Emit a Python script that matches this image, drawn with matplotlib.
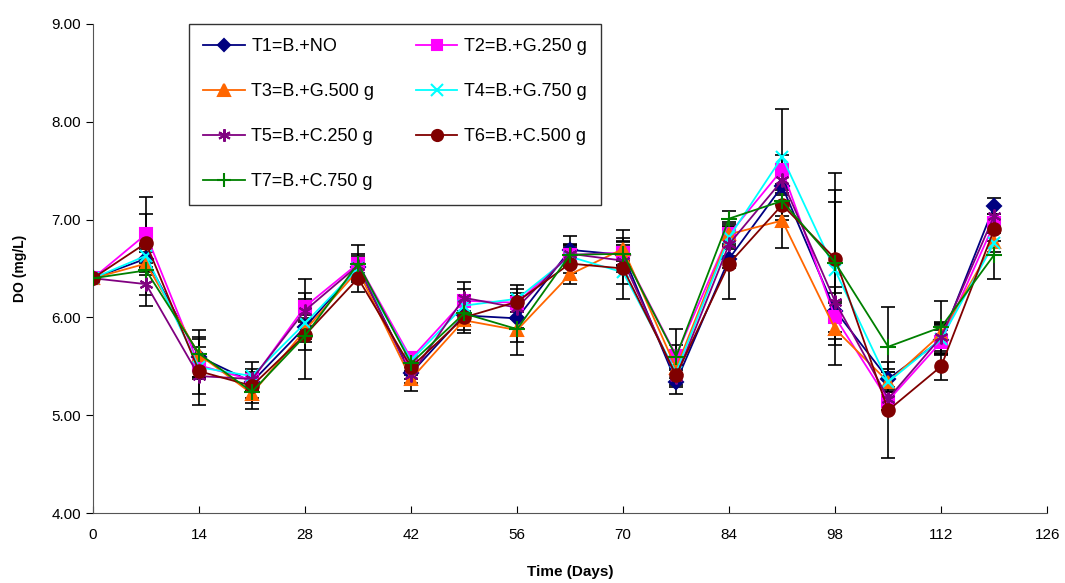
"""
DO over time for seven treatments, with SD error bars
"""

import numpy as np
import matplotlib.pyplot as plt
from matplotlib.lines import Line2D

plt.rcParams['font.family'] = ['Liberation Sans', 'DejaVu Sans']

# sampling days
days = [0, 7, 14, 21, 28, 35, 42, 49, 56, 63, 70, 77, 84, 91, 98, 105, 112, 119]

# mean DO (mg/L) per treatment
t1 = [6.40, 6.60, 5.60, 5.34, 5.90, 6.51, 5.43, 6.02, 5.99, 6.69, 6.64, 5.34, 6.60, 7.34, 6.07, 5.37, 5.77, 7.14]
t2 = [6.40, 6.85, 5.51, 5.36, 6.11, 6.55, 5.58, 6.17, 6.15, 6.64, 6.66, 5.61, 6.85, 7.51, 6.00, 5.15, 5.75, 6.96]
t3 = [6.40, 6.55, 5.62, 5.22, 5.87, 6.48, 5.37, 5.97, 5.87, 6.44, 6.70, 5.48, 6.85, 6.99, 5.88, 5.34, 5.83, 6.77]
t4 = [6.40, 6.63, 5.49, 5.40, 5.94, 6.50, 5.56, 6.12, 6.19, 6.62, 6.46, 5.44, 6.82, 7.64, 6.48, 5.34, 5.78, 6.76]
t5 = [6.40, 6.34, 5.40, 5.37, 6.07, 6.53, 5.41, 6.20, 6.10, 6.65, 6.58, 5.39, 6.75, 7.40, 6.16, 5.17, 5.80, 7.04]
t6 = [6.40, 6.76, 5.45, 5.30, 5.82, 6.40, 5.49, 6.00, 6.16, 6.55, 6.50, 5.41, 6.55, 7.15, 6.60, 5.05, 5.50, 6.90]
t7 = [6.40, 6.48, 5.63, 5.24, 5.81, 6.55, 5.53, 6.04, 5.88, 6.64, 6.65, 5.60, 7.01, 7.19, 6.56, 5.70, 5.90, 6.64]

# standard deviations
sd1 = [0.0, 0.10, 0.10, 0.08, 0.12, 0.10, 0.06, 0.10, 0.10, 0.14, 0.10, 0.12, 0.10, 0.15, 0.10, 0.10, 0.15, 0.08]
sd2 = [0.0, 0.38, 0.12, 0.08, 0.28, 0.19, 0.05, 0.12, 0.10, 0.10, 0.12, 0.27, 0.10, 0.15, 0.15, 0.10, 0.12, 0.10]
sd3 = [0.0, 0.12, 0.25, 0.10, 0.12, 0.10, 0.12, 0.10, 0.12, 0.10, 0.19, 0.10, 0.12, 0.28, 0.37, 0.10, 0.12, 0.10]
sd4 = [0.0, 0.12, 0.10, 0.14, 0.12, 0.10, 0.06, 0.10, 0.10, 0.10, 0.12, 0.10, 0.10, 0.49, 0.70, 0.10, 0.15, 0.12]
sd5 = [0.0, 0.22, 0.18, 0.10, 0.12, 0.10, 0.08, 0.16, 0.12, 0.10, 0.12, 0.10, 0.12, 0.15, 0.15, 0.12, 0.14, 0.10]
sd6 = [0.0, 0.30, 0.35, 0.12, 0.15, 0.14, 0.08, 0.16, 0.17, 0.10, 0.31, 0.10, 0.36, 0.15, 0.88, 0.49, 0.14, 0.12]
sd7 = [0.0, 0.25, 0.15, 0.18, 0.44, 0.10, 0.08, 0.12, 0.26, 0.10, 0.12, 0.12, 0.08, 0.15, 0.74, 0.41, 0.27, 0.25]

labels = ['T1=B.+NO', 'T2=B.+G.250 g', 'T3=B.+G.500 g', 'T4=B.+G.750 g',
          'T5=B.+C.250 g', 'T6=B.+C.500 g', 'T7=B.+C.750 g']

means = [t1, t2, t3, t4, t5, t6, t7]
sds = [sd1, sd2, sd3, sd4, sd5, sd6, sd7]
colors = ['#000080', '#FF00FF', '#FF6600', '#00FFFF', '#800080', '#800000', '#008000']
markers = ['D', 's', '^', 'x', (6, 2, 0), 'o', '+']
msizes = [7, 8, 9, 9, 10, 9, 11]

fig = plt.figure(figsize=(10.65, 5.83), dpi=100)
ax = fig.add_axes([0.0873, 0.12, 0.896, 0.839])

handles = []
for m, s in zip(means, sds):
    ax.errorbar(days, m, yerr=s, fmt='none', ecolor='black', elinewidth=1.2,
                capsize=5, capthick=1.2, zorder=2)
for m, c, mk, ms, lab in zip(means, colors, markers, msizes, labels):
    ax.plot(days, m, color=c, marker=mk, markersize=ms, linewidth=1.3,
            markeredgewidth=1.5, zorder=3)
    handles.append(Line2D([], [], color=c, marker=mk, markersize=ms - 1,
                          linewidth=1.3, markeredgewidth=1.5, label=lab))

ax.set_xlim(0, 126)
ax.set_ylim(4, 9)
ax.set_xticks(np.arange(0, 127, 14))
ax.set_yticks(np.arange(4, 9.01, 1))
ax.set_yticklabels(['%.2f' % v for v in np.arange(4, 9.01, 1)])
ax.tick_params(axis='x', direction='in', length=5, labelsize=11, pad=11)
ax.tick_params(axis='y', direction='out', length=5, labelsize=11)
ax.spines['top'].set_visible(False)
ax.spines['right'].set_visible(False)
for sp in ['left', 'bottom']:
    ax.spines[sp].set_color('#555555')

ax.set_xlabel('Time (Days)', fontsize=11, fontweight='bold', labelpad=16)
ax.set_ylabel('DO (mg/L)', fontsize=10, fontweight='bold', labelpad=18)

# row-wise legend order in two columns
order = [0, 2, 4, 6, 1, 3, 5]
leg = ax.legend([handles[i] for i in order], [labels[i] for i in order],
                ncol=2, loc='upper left', bbox_to_anchor=(0.1006, 1.0),
                borderaxespad=0, fontsize=13, frameon=True, fancybox=False,
                edgecolor='black', borderpad=0.8, labelspacing=1.55,
                handlelength=2.3, handletextpad=0.35, columnspacing=2.3)
leg.get_frame().set_linewidth(1.0)

plt.savefig('out.png', dpi=100)
